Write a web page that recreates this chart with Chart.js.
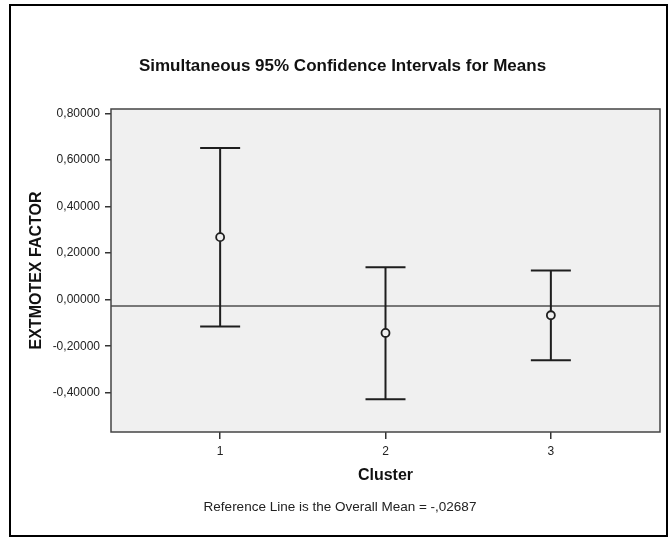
<!DOCTYPE html>
<html>
<head>
<meta charset="utf-8">
<script src="https://cdn.jsdelivr.net/npm/chart.js@4.4.1/dist/chart.umd.min.js"></script>
<style>
  html, body { margin: 0; padding: 0; background: #ffffff; }
  #ci-chart { display: block; }
</style>
</head>
<body>
<canvas id="ci-chart" width="670" height="537"></canvas>
<script>
// values
var clusters = [1, 2, 3];
var means = [0.269, -0.143, -0.067];
var lower = [-0.115, -0.428, -0.260];
var upper = [0.652, 0.140, 0.126];
var overallMean = -0.02687;
var yTicks = [-0.4, -0.2, 0, 0.2, 0.4, 0.6, 0.8];

var titleText = "Simultaneous 95% Confidence Intervals for Means";
var footText = "Reference Line is the Overall Mean = -,02687";
var fontFamily = "'Liberation Sans', Arial, sans-serif";
var plotBg = "#f0f0f0";

function fmt(v) {
    return v.toFixed(5).replace(".", ",");
}

var frame = {
    id: "frame",
    beforeDraw: function(chart) {
        var ctx = chart.ctx, a = chart.chartArea;
        ctx.save();
        ctx.fillStyle = "#ffffff";
        ctx.fillRect(0, 0, chart.width, chart.height);
        ctx.fillStyle = plotBg;
        ctx.fillRect(a.left, a.top, a.right - a.left, a.bottom - a.top);
        // outer frame
        ctx.fillStyle = "#000000";
        ctx.fillRect(9, 4, 659, 2);
        ctx.fillRect(9, 4, 2, 533);
        ctx.fillRect(9, 535, 659, 2);
        ctx.fillRect(666, 4, 2, 533);
        ctx.restore();
    },
    beforeDatasetsDraw: function(chart) {
        var ctx = chart.ctx, a = chart.chartArea;
        var xs = chart.scales.x, ys = chart.scales.y;
        ctx.save();
        // reference line at overall mean
        var ry = ys.getPixelForValue(overallMean);
        ctx.strokeStyle = "#505050";
        ctx.lineWidth = 1.5;
        ctx.beginPath();
        ctx.moveTo(a.left, ry);
        ctx.lineTo(a.right, ry);
        ctx.stroke();
        // whiskers + caps
        ctx.strokeStyle = "#1e1e1e";
        ctx.lineWidth = 2;
        for (var i = 0; i < clusters.length; i++) {
            var x = xs.getPixelForValue(clusters[i]);
            var yl = ys.getPixelForValue(lower[i]);
            var yu = ys.getPixelForValue(upper[i]);
            ctx.beginPath();
            ctx.moveTo(x, yl);
            ctx.lineTo(x, yu);
            ctx.moveTo(x - 20, yu);
            ctx.lineTo(x + 20, yu);
            ctx.moveTo(x - 20, yl);
            ctx.lineTo(x + 20, yl);
            ctx.stroke();
        }
        ctx.restore();
    },
    afterDraw: function(chart) {
        var ctx = chart.ctx, a = chart.chartArea;
        ctx.save();
        ctx.strokeStyle = "#444444";
        ctx.lineWidth = 1.5;
        ctx.strokeRect(a.left, a.top, a.right - a.left, a.bottom - a.top);
        ctx.fillStyle = "#111111";
        ctx.textAlign = "center";
        ctx.textBaseline = "alphabetic";
        ctx.font = "bold 17px " + fontFamily;
        ctx.fillText(titleText, 342.5, 70.5);
        ctx.fillStyle = "#222222";
        ctx.font = "13.5px " + fontFamily;
        ctx.fillText(footText, 340, 511);
        ctx.restore();
    }
};

var config = {
    type: "scatter",
    data: {
        datasets: [{
            label: "Mean",
            data: clusters.map(function(c, i) { return {x: c, y: means[i]}; }),
            pointStyle: "circle",
            pointRadius: 4,
            pointBorderWidth: 1.8,
            borderColor: "#1e1e1e",
            backgroundColor: plotBg,
            clip: false
        }]
    },
    options: {
        responsive: false,
        animation: false,
        devicePixelRatio: 1,
        layout: {
            padding: {top: 109, left: 12, right: 10, bottom: 45}
        },
        plugins: {
            legend: {display: false},
            tooltip: {enabled: false},
            title: {display: false}
        },
        scales: {
            x: {
                type: "linear",
                min: 0.34,
                max: 3.66,
                afterBuildTicks: function(scale) {
                    scale.ticks = clusters.map(function(c) { return {value: c}; });
                },
                afterFit: function(scale) { scale.height = 60; },
                grid: {drawOnChartArea: false, drawTicks: true, tickLength: 7, color: "#333333", lineWidth: 1.5},
                border: {display: false},
                ticks: {
                    padding: 5,
                    color: "#222222",
                    font: {family: fontFamily, size: 12},
                    callback: function(v) { return String(v); }
                },
                title: {
                    display: true,
                    text: "Cluster",
                    color: "#111111",
                    font: {family: fontFamily, size: 16, weight: "bold"},
                    padding: {top: 0, bottom: 7}
                }
            },
            y: {
                min: -0.569,
                max: 0.82,
                afterBuildTicks: function(scale) {
                    scale.ticks = yTicks.map(function(v) { return {value: v}; });
                },
                afterFit: function(scale) { scale.width = 99; },
                grid: {drawOnChartArea: false, drawTicks: true, tickLength: 6, color: "#333333", lineWidth: 1.5},
                border: {display: false},
                ticks: {
                    padding: 5,
                    color: "#222222",
                    font: {family: fontFamily, size: 12},
                    callback: function(v) { return fmt(v); }
                },
                title: {
                    display: true,
                    text: "EXTMOTEX FACTOR",
                    color: "#111111",
                    font: {family: fontFamily, size: 16, weight: "bold"},
                    padding: {top: 15, bottom: 0}
                }
            }
        }
    },
    plugins: [frame]
};

var ciChart = new Chart(document.getElementById("ci-chart"), config);
</script>
</body>
</html>
